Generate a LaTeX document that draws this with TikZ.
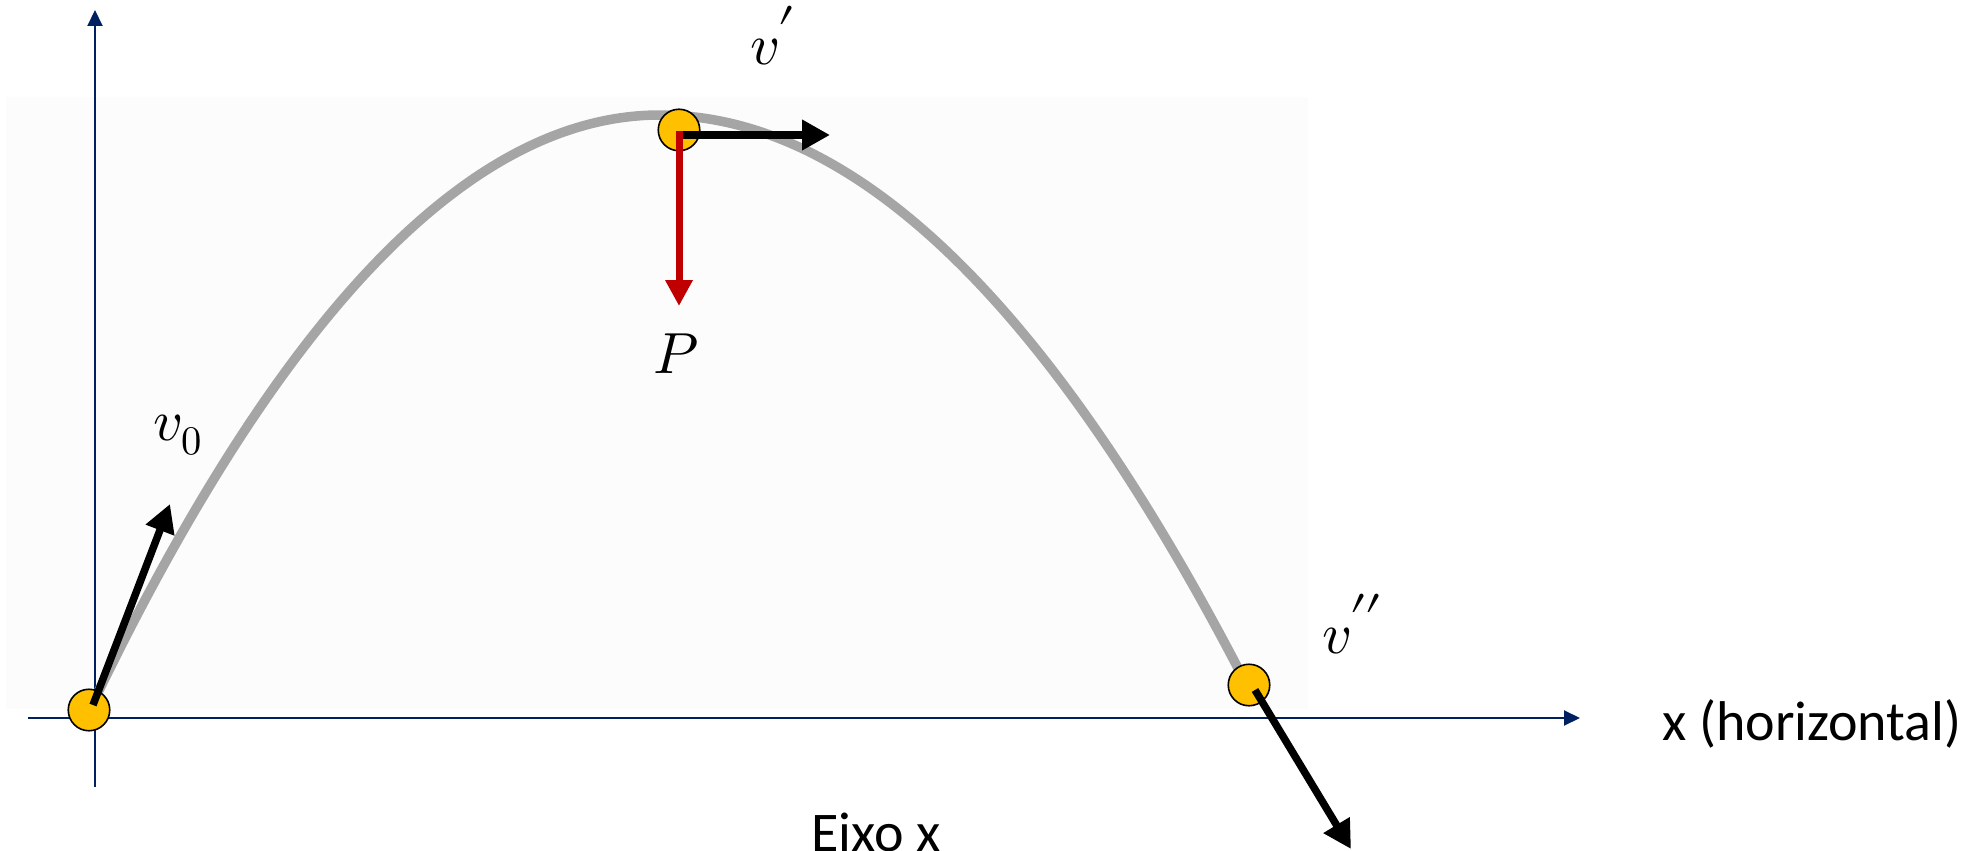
\documentclass[tikz,border=0pt]{standalone}
\usepackage{fontspec}
\usepackage{unicode-math}
\setmainfont{Carlito}
\setmathfont{Latin Modern Math}
\usetikzlibrary{arrows.meta}
\definecolor{axisblue}{HTML}{002060}
\definecolor{ballfill}{HTML}{FFC000}
\definecolor{pathgray}{HTML}{A5A5A5}
\definecolor{forcered}{HTML}{C00000}
\definecolor{bgpanel}{HTML}{FCFCFC}
\newcommand{\bigprime}{\raisebox{-6pt}{$^{\textstyle\prime}$}}
\begin{document}
\begin{tikzpicture}[x=1pt,y=-1pt,
  axisline/.style={draw=axisblue, line width=2pt, -{Triangle[length=16pt,width=15pt]}},
  ball/.style={circle, draw=black, line width=1.6pt, fill=ballfill, minimum size=41.5pt, inner sep=0pt},
  vec/.style={draw=black, line width=7.5pt, -{Triangle[length=28pt,width=29pt]}},
  force/.style={draw=forcered, line width=7pt, -{Triangle[length=26pt,width=26pt]}},
  trajectory/.style={draw=pathgray, line width=9.5pt},
  mathlab/.style={inner sep=0pt, font=\fontsize{58}{60}\selectfont},
  textlab/.style={inner sep=0pt, font=\fontsize{56}{62}\selectfont}
]
\useasboundingbox (0,0) rectangle (1979,851);
% background panel
\fill[bgpanel] (6,97) rectangle (1308,709);
% axes
\coordinate (ybot) at (95,787);
\coordinate (ytop) at (95,10);
\coordinate (xleft) at (28,718);
\coordinate (xright) at (1580,718);
\draw[axisline] (ybot) -- (ytop);
\draw[axisline] (xleft) -- (xright);
% trajectory
\coordinate (tstart) at (92,705);
\coordinate (tapex) at (660,115);
\coordinate (tend) at (1240,672);
\draw[trajectory] (tstart) .. controls (281.3,311.7) and (470.7,115) .. (tapex)
  .. controls (853.3,115) and (1046.7,300.7) .. (tend);
% balls
\node[ball] (b1) at (89,710) {};
\node[ball] (b2) at (679,130) {};
\node[ball] (b3) at (1249,685) {};
% vectors
\coordinate (v0tip) at (170,504);
\coordinate (v1tip) at (830,135);
\coordinate (ptip) at (679,306);
\coordinate (v2tip) at (1351,849);
\coordinate (v0tail) at (93,705);
\coordinate (v1tail) at (676,135);
\coordinate (ptail) at (679,131);
\coordinate (v2tail) at (1255,690);
\draw[vec] (v0tail) -- (v0tip);
\draw[vec] (v1tail) -- (v1tip);
\draw[force] (ptail) -- (ptip);
\draw[vec] (v2tail) -- (v2tip);
% labels
\node[mathlab, anchor=base west] (lv0) at (153,440) {$v_0$};
\node[mathlab, anchor=base west] (lv1) at (750,65) {$v$\kern-1pt\bigprime};
\node[mathlab, anchor=base west] (lv2) at (1322,653) {$v$\kern-1pt\bigprime\kern-4pt\bigprime};
\node[mathlab, anchor=base] (lp) at (676,373) {$P$};
\node[textlab, anchor=base] (lx) at (1812,740) {x (horizontal)};
\node[textlab, anchor=base] (le) at (876,851) {Eixo x};
\end{tikzpicture}
\end{document}
